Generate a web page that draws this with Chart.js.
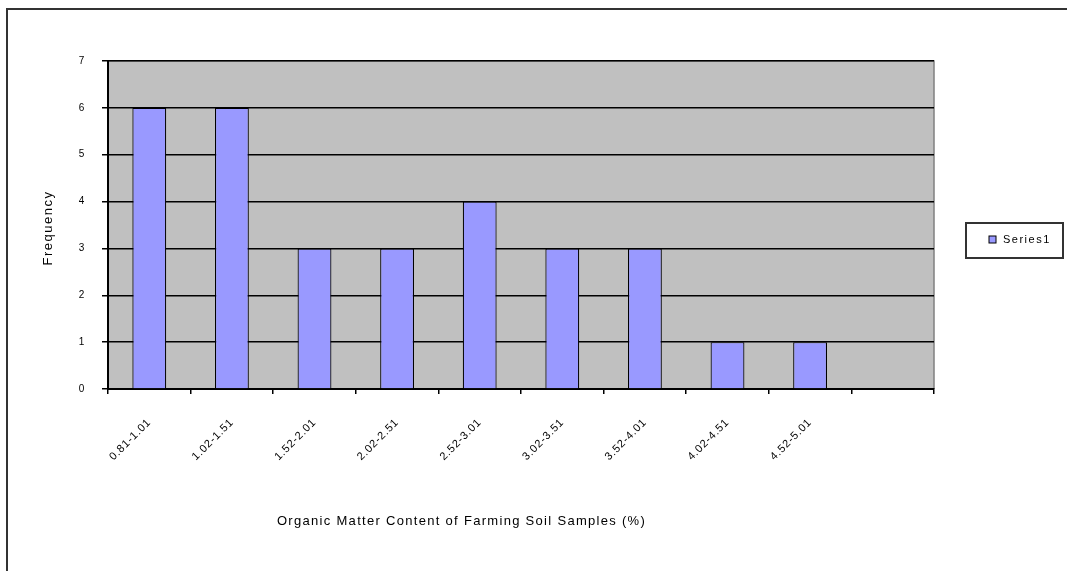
<!DOCTYPE html>
<html>
<head>
<meta charset="utf-8">
<script src="https://cdn.jsdelivr.net/npm/chart.js@4"></script>
<style>
  html, body { margin: 0; padding: 0; background: #fff; overflow: hidden; }
  #wrap { position: relative; width: 1067px; height: 571px; }
  #frame { position: absolute; left: 6px; top: 8px; width: 1100px; height: 700px; border: 2px solid #333; pointer-events: none; box-sizing: border-box; }
  canvas { position: absolute; left: 0; top: 0; }
</style>
</head>
<body>
<div id="wrap">
  <canvas id="c" width="1067" height="571"></canvas>
  <div id="frame"></div>
</div>
<script>
const categories = ["0.81-1.01", "1.02-1.51", "1.52-2.01", "2.02-2.51", "2.52-3.01", "3.02-3.51", "3.52-4.01", "4.02-4.51", "4.52-5.01", ""];
const series1 = [6, 6, 3, 3, 4, 3, 3, 1, 1, null];
const yTicks = [0, 1, 2, 3, 4, 5, 6, 7];
const seriesName = "Series1";
const xTitle = "Organic Matter Content of Farming Soil Samples (%)";
const yTitle = "Frequency";

const FONT = "'Liberation Sans', Arial, sans-serif";

const plotBg = {
  id: 'plotBg',
  beforeDraw(chart) {
    const { ctx, chartArea: a } = chart;
    ctx.save();
    ctx.fillStyle = '#C0C0C0';
    ctx.fillRect(a.left, a.top, a.right - a.left, a.bottom - a.top);
    ctx.strokeStyle = '#808080';
    ctx.lineWidth = 1.5;
    ctx.beginPath();
    ctx.moveTo(a.left, a.top);
    ctx.lineTo(a.right, a.top);
    ctx.lineTo(a.right, a.bottom);
    ctx.stroke();
    ctx.restore();
    ctx.letterSpacing = '0.8px';
  }
};

const extras = {
  id: 'extras',
  afterDraw(chart) {
    const { ctx, chartArea: a } = chart;
    ctx.save();
    ctx.fillStyle = '#000';
    // x-axis title
    ctx.font = "13px " + FONT;
    ctx.letterSpacing = '1.3px';
    ctx.textAlign = 'center';
    ctx.textBaseline = 'middle';
    ctx.fillText(xTitle, a.left + (a.right - a.left) * 0.428, 521);
    // y-axis title
    ctx.save();
    ctx.translate(48, (a.top + a.bottom) / 2 + 3);
    ctx.rotate(-Math.PI / 2);
    ctx.letterSpacing = '1.5px';
    ctx.fillText(yTitle, 0, 0);
    ctx.restore();
    // legend
    const lx = a.right + 32, ly = a.top + 162, lw = 97, lh = 35;
    ctx.fillStyle = '#fff';
    ctx.fillRect(lx, ly, lw, lh);
    ctx.strokeStyle = '#333';
    ctx.lineWidth = 2;
    ctx.strokeRect(lx, ly, lw, lh);
    const ds = chart.data.datasets[0];
    ctx.fillStyle = ds.backgroundColor;
    ctx.fillRect(lx + 23, ly + 13, 7, 7);
    ctx.strokeStyle = '#000';
    ctx.lineWidth = 1;
    ctx.strokeRect(lx + 23, ly + 13, 7, 7);
    ctx.fillStyle = '#000';
    ctx.font = "11px " + FONT;
    ctx.letterSpacing = '1.5px';
    ctx.textAlign = 'left';
    ctx.fillText(ds.label, lx + 37, ly + 17);
    ctx.restore();
  }
};

new Chart(document.getElementById('c'), {
  type: 'bar',
  data: {
    labels: categories,
    datasets: [{
      label: seriesName,
      data: series1,
      backgroundColor: '#9999FF',
      borderColor: '#000',
      borderWidth: 1.2,
      categoryPercentage: 1,
      barPercentage: 0.41
    }]
  },
  options: {
    responsive: false,
    animation: false,
    devicePixelRatio: 1,
    layout: { padding: { top: 61, right: 133, left: 0, bottom: 0 } },
    plugins: { legend: { display: false }, tooltip: { enabled: false } },
    scales: {
      x: {
        grid: { drawOnChartArea: false, drawTicks: true, tickLength: 5, color: '#000', lineWidth: 1.5, offset: true },
        border: { color: '#000', width: 2 },
        ticks: { minRotation: 45, maxRotation: 45, autoSkip: false, padding: 22, color: '#000', font: { family: FONT, size: 11 } },
        afterFit(s) { s.height = 182; }
      },
      y: {
        min: 0, max: 7,
        afterBuildTicks(s) { s.ticks = yTicks.map(v => ({ value: v })); },
        grid: { color: '#000', lineWidth: 1.5, tickLength: 6, drawTicks: true },
        border: { color: '#000', width: 2 },
        ticks: { padding: 17, color: '#000', font: { family: FONT, size: 10 } },
        afterFit(s) { s.width = 108; }
      }
    }
  },
  plugins: [plotBg, extras]
});
</script>
</body>
</html>
